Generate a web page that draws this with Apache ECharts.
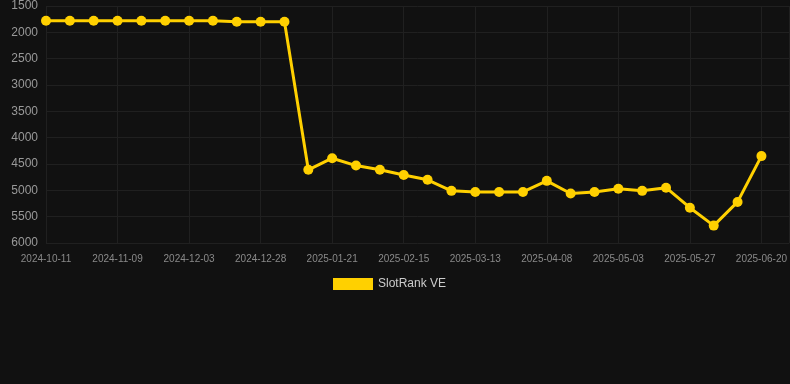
<!DOCTYPE html>
<html>
<head>
<meta charset="utf-8">
<script src="https://cdn.jsdelivr.net/npm/echarts@6/dist/echarts.min.js"></script>
<style>
html,body{margin:0;padding:0;background:#111111;}
#c{width:790px;height:384px;}
</style>
</head>
<body>
<div id="c"></div>
<script>
const dates = [
  '2024-10-11','2024-10-21','2024-10-31','2024-11-09','2024-11-17','2024-11-25',
  '2024-12-03','2024-12-11','2024-12-19','2024-12-28','2025-01-05','2025-01-13',
  '2025-01-21','2025-01-29','2025-02-06','2025-02-15','2025-02-23','2025-03-04',
  '2025-03-13','2025-03-22','2025-03-30','2025-04-08','2025-04-16','2025-04-25',
  '2025-05-03','2025-05-11','2025-05-19','2025-05-27','2025-06-04','2025-06-12',
  '2025-06-20'
];
const rankValues = [
  1780,1780,1780,1780,1780,1780,1780,1780,1800,1800,1800,
  4610,4390,4530,4610,4710,4800,5010,5030,5030,5030,4820,
  5060,5030,4970,5010,4950,5330,5670,5220,4350
];
const yTicks = [1500,2000,2500,3000,3500,4000,4500,5000,5500,6000];
const seriesName = 'SlotRank VE';

const chart = echarts.init(document.getElementById('c'));
const data = rankValues.map((v, i) => [i, v]);
chart.setOption({
  backgroundColor: '#111111',
  animation: false,
  textStyle: { fontFamily: 'Liberation Sans, Arial, sans-serif' },
  grid: { left: 46, right: 0, top: 6, bottom: 141, containLabel: false },
  legend: {
    data: [{ name: seriesName, icon: 'rect' }],
    top: 273,
    left: 328,
    itemWidth: 40,
    itemHeight: 12,
    itemGap: 10,
    textStyle: { color: '#cccccc', fontSize: 12 }
  },
  xAxis: {
    type: 'value',
    min: 0,
    max: 744 / 23.867,
    interval: 3,
    axisLine: { show: false },
    axisTick: { show: false },
    axisLabel: {
      color: '#8a8a8a',
      fontSize: 10,
      margin: 11,
      showMaxLabel: false,
      formatter: function (v) {
        return Number.isInteger(v) && dates[v] ? dates[v] : '';
      }
    },
    splitLine: { show: true, lineStyle: { color: '#202020', width: 1 } }
  },
  yAxis: {
    type: 'value',
    inverse: true,
    min: yTicks[0],
    max: yTicks[yTicks.length - 1],
    interval: 500,
    axisLine: { show: false },
    axisTick: { show: false },
    axisLabel: {
      color: '#999999', fontSize: 12, margin: 8,
      formatter: function (v) { return String(v); }
    },
    splitLine: { show: true, lineStyle: { color: '#202020', width: 1 } }
  },
  series: [{
    name: seriesName,
    type: 'line',
    data: data,
    color: '#FFD000',
    lineStyle: { width: 3, color: '#FFD000' },
    itemStyle: { color: '#FFD000' },
    symbol: 'circle',
    symbolSize: 10,
    showSymbol: true
  }]
});
</script>
</body>
</html>
